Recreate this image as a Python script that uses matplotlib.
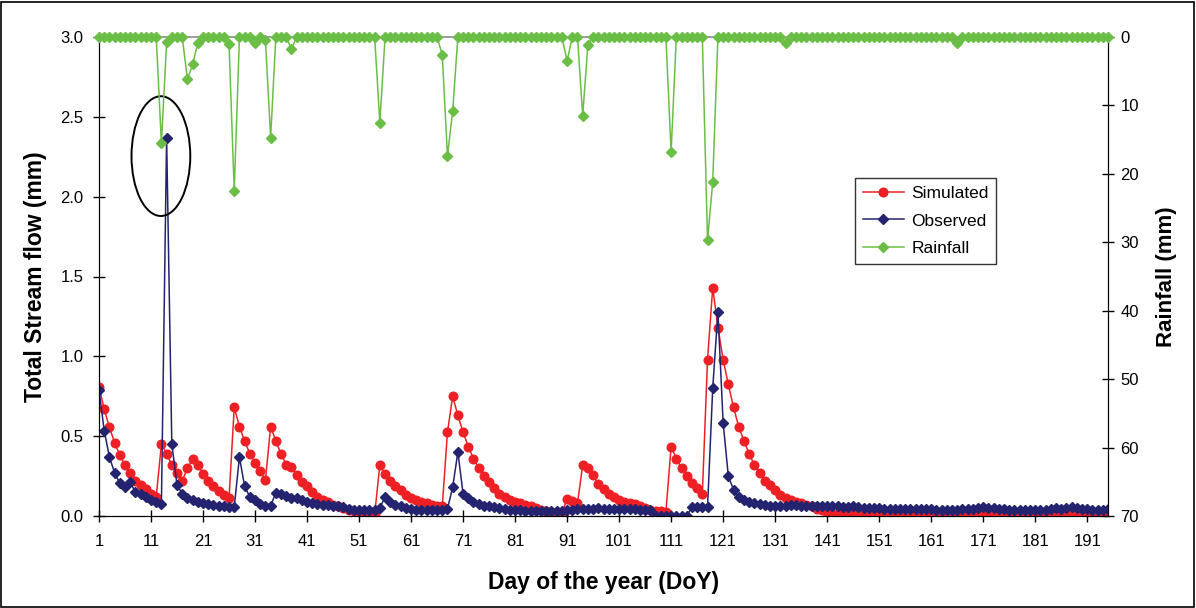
import numpy as np
import matplotlib
matplotlib.use("Agg")
import matplotlib.pyplot as plt
from matplotlib.patches import Ellipse, Rectangle
from matplotlib.lines import Line2D

plt.rcParams['font.family'] = ['Liberation Sans', 'DejaVu Sans']

# ---------------- data ----------------
simulated = [
    0.81, 0.67, 0.555, 0.46, 0.38, 0.32, 0.27, 0.22, 0.195, 0.17,
    0.14, 0.12, 0.45, 0.39, 0.32, 0.27, 0.22, 0.30, 0.355, 0.32,
    0.265, 0.22, 0.185, 0.155, 0.13, 0.11, 0.68, 0.56, 0.47, 0.39,
    0.335, 0.28, 0.225, 0.56, 0.47, 0.39, 0.32, 0.31, 0.255, 0.21,
    0.185, 0.15, 0.12, 0.10, 0.085, 0.07, 0.06, 0.05, 0.04, 0.03,
    0.02, 0.015, 0.01, 0.01, 0.32, 0.26, 0.22, 0.185, 0.16, 0.13,
    0.11, 0.10, 0.09, 0.08, 0.07, 0.065, 0.06, 0.525, 0.75, 0.63,
    0.525, 0.435, 0.36, 0.30, 0.25, 0.215, 0.175, 0.14, 0.12, 0.10,
    0.09, 0.08, 0.07, 0.065, 0.05, 0.04, 0.03, 0.025, 0.022, 0.02,
    0.105, 0.095, 0.08, 0.32, 0.30, 0.255, 0.20, 0.17, 0.14, 0.12,
    0.10, 0.087, 0.08, 0.074, 0.063, 0.05, 0.04, 0.03, 0.03, 0.025,
    0.435, 0.36, 0.30, 0.25, 0.205, 0.175, 0.135, 0.98, 1.43, 1.18,
    0.98, 0.825, 0.68, 0.56, 0.47, 0.39, 0.32, 0.27, 0.22, 0.195,
    0.165, 0.13, 0.115, 0.10, 0.09, 0.08, 0.07, 0.06, 0.045, 0.035,
    0.025, 0.015, 0.012, 0.012, 0.01, 0.012, 0.01, 0.008, 0.008, 0.006,
    0.005, 0.005, 0.005, 0.004, 0.005, 0.005, 0.004, 0.005, 0.005, 0.005,
    0.005, 0.004, 0.005, 0.006, 0.006, 0.007, 0.008, 0.007, 0.008, 0.01,
    0.012, 0.014, 0.012, 0.01, 0.008, 0.006, 0.005, 0.005, 0.005, 0.004,
    0.005, 0.005, 0.006, 0.008, 0.01, 0.012, 0.014, 0.012, 0.01, 0.008,
    0.006, 0.005, 0.005, 0.005, 0.005,
]

observed = [
    0.79, 0.535, 0.37, 0.27, 0.205, 0.18, 0.21, 0.15, 0.14, 0.12,
    0.10, 0.085, 0.075, 2.37, 0.45, 0.195, 0.14, 0.115, 0.10, 0.09,
    0.08, 0.075, 0.07, 0.065, 0.06, 0.055, 0.055, 0.37, 0.185, 0.12,
    0.10, 0.075, 0.065, 0.065, 0.145, 0.135, 0.125, 0.11, 0.115, 0.10,
    0.09, 0.08, 0.075, 0.07, 0.07, 0.065, 0.06, 0.055, 0.045, 0.04,
    0.04, 0.04, 0.04, 0.04, 0.05, 0.12, 0.09, 0.07, 0.06, 0.05,
    0.045, 0.04, 0.04, 0.04, 0.04, 0.04, 0.04, 0.045, 0.18, 0.40,
    0.14, 0.11, 0.09, 0.075, 0.065, 0.06, 0.055, 0.05, 0.045, 0.04,
    0.04, 0.035, 0.03, 0.03, 0.03, 0.03, 0.03, 0.03, 0.03, 0.03,
    0.04, 0.04, 0.045, 0.045, 0.045, 0.045, 0.05, 0.045, 0.045, 0.045,
    0.045, 0.045, 0.045, 0.045, 0.04, 0.04, 0.035, 0.0, 0.0, 0.0,
    0.0, 0.0, 0.0, 0.0, 0.055, 0.055, 0.055, 0.055, 0.80, 1.28,
    0.585, 0.25, 0.165, 0.12, 0.10, 0.09, 0.08, 0.077, 0.07, 0.065,
    0.06, 0.06, 0.065, 0.07, 0.07, 0.065, 0.065, 0.06, 0.06, 0.06,
    0.06, 0.065, 0.06, 0.055, 0.055, 0.06, 0.055, 0.05, 0.05, 0.05,
    0.05, 0.045, 0.045, 0.045, 0.045, 0.045, 0.045, 0.045, 0.045, 0.045,
    0.045, 0.04, 0.04, 0.04, 0.04, 0.04, 0.045, 0.045, 0.045, 0.05,
    0.055, 0.05, 0.05, 0.045, 0.045, 0.04, 0.04, 0.04, 0.04, 0.035,
    0.035, 0.035, 0.04, 0.045, 0.05, 0.045, 0.05, 0.055, 0.05, 0.045,
    0.045, 0.04, 0.04, 0.04, 0.045,
]

# rainfall events (day of year, mm); all other days are 0 mm
rain_days = [13, 14, 18, 19, 20, 26, 27, 31, 33, 34, 38, 55, 67, 68, 69,
             91, 94, 95, 111, 118, 119, 133, 166]
rain_mm = [15.5, 0.8, 6.2, 4.0, 0.9, 1.0, 22.5, 0.9, 0.5, 14.7, 1.8, 12.5,
           2.6, 17.4, 10.8, 3.5, 11.5, 1.1, 16.8, 29.7, 21.2, 0.9, 0.9]

xtick_labels = list(range(1, 192, 10))
left_ticks = [0.0, 0.5, 1.0, 1.5, 2.0, 2.5, 3.0]
right_ticks = [0, 10, 20, 30, 40, 50, 60, 70]

# ---------------- build ----------------
n = len(simulated)
days = np.arange(1, n + 1)
rain = np.zeros(n)
for d, v in zip(rain_days, rain_mm):
    rain[d - 1] = v

RED = '#EE2025'
NAVY = '#232370'
GREEN = '#6BBE45'

fig = plt.figure(figsize=(11.96, 6.08), dpi=100)
ax1 = fig.add_axes([99 / 1196, 1 - 516 / 608, (1108 - 99) / 1196, (516 - 37) / 608])
ax2 = ax1.twinx()

ax1.plot(days, simulated, color=RED, lw=1.1, marker='o', ms=6.2,
         mec=RED, mfc=RED, zorder=3, label='Simulated')
ax1.plot(days, observed, color=NAVY, lw=1.1, marker='D', ms=5.2,
         mec=NAVY, mfc=NAVY, zorder=4, label='Observed')
ax2.plot(days, rain, color=GREEN, lw=1.1, marker='D', ms=5.6,
         mec=GREEN, mfc=GREEN, zorder=3, label='Rainfall', clip_on=False)

ax1.set_xlim(1, n)
ax1.set_ylim(0, 3.0)
ax2.set_ylim(70, 0)

ax1.set_xticks(xtick_labels)
ax1.set_xticklabels([str(t) for t in xtick_labels])
ax1.set_yticks(left_ticks)
ax1.set_yticklabels([f'{t:.1f}' for t in left_ticks])
ax2.set_yticks(right_ticks)
ax2.set_yticklabels([str(t) for t in right_ticks])

for ax in (ax1, ax2):
    ax.tick_params(direction='inout', length=8, width=1.0, labelsize=12,
                   colors='black')
ax1.tick_params(axis='x', pad=9)
ax1.tick_params(axis='y', pad=7)
ax2.tick_params(axis='y', pad=5)

for sp in ('left', 'bottom', 'right'):
    ax1.spines[sp].set_color('black')
    ax2.spines[sp].set_color('black')
ax1.spines['top'].set_visible(False)
ax2.spines['top'].set_color('#8c8c8c')
ax2.spines['top'].set_linewidth(1.2)
ax2.spines['top'].set_zorder(0)

ax1.set_ylabel('Total Stream flow (mm)', fontsize=16.5, fontweight='bold',
               labelpad=10)
ax2.set_ylabel('Rainfall (mm)', fontsize=16, fontweight='bold',
               rotation=90, labelpad=12)
ax1.set_xlabel('Day of the year (DoY)', fontsize=16.5, fontweight='bold',
               labelpad=16)

# highlight ellipse around the early peak
ell = Ellipse((12.9, 2.254), width=11.3, height=0.75, fill=False,
              edgecolor='black', lw=1.4, zorder=6)
ax1.add_patch(ell)

handles = [
    Line2D([], [], color=RED, lw=1.1, marker='o', ms=6.2, mfc=RED, mec=RED),
    Line2D([], [], color=NAVY, lw=1.1, marker='D', ms=5.2, mfc=NAVY, mec=NAVY),
    Line2D([], [], color=GREEN, lw=1.1, marker='D', ms=5.6, mfc=GREEN, mec=GREEN),
]
leg = ax2.legend(handles, ['Simulated', 'Observed', 'Rainfall'],
                 loc='upper left', bbox_to_anchor=(0.749, 0.705),
                 fontsize=12.5, frameon=True, fancybox=False, borderpad=0.45,
                 handlelength=2.4, labelspacing=0.7, handletextpad=0.4,
                 borderaxespad=0)
leg.get_frame().set_edgecolor('black')
leg.get_frame().set_linewidth(1.0)

# outer frame of the figure
fig.patches.append(Rectangle((0.001, 0.002), 0.997, 0.995, transform=fig.transFigure,
                             fill=False, edgecolor='black', lw=1.2))

fig.savefig('out.png', dpi=100)
